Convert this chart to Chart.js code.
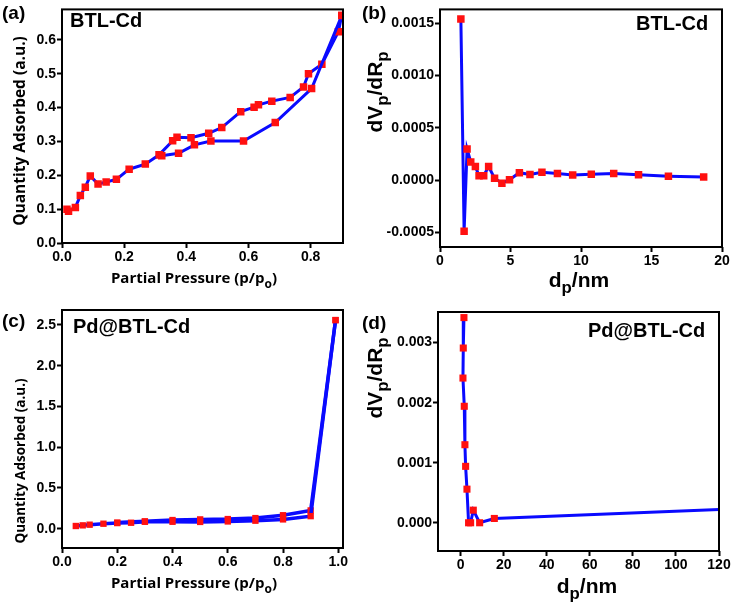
<!DOCTYPE html>
<html>
<head>
<meta charset="utf-8">
<script src="https://cdn.jsdelivr.net/npm/chart.js@4.4.1/dist/chart.umd.min.js"></script>
<style>
  body { margin: 0; background: #fff; }
  #fig { position: relative; width: 732px; height: 607px; }
  canvas { position: absolute; }
</style>
</head>
<body>
<div id="fig">
  <canvas id="chartA" width="360" height="300" style="left:0;top:0"></canvas>
  <canvas id="chartB" width="372" height="300" style="left:360px;top:0"></canvas>
  <canvas id="chartC" width="360" height="307" style="left:0;top:300px"></canvas>
  <canvas id="chartD" width="372" height="307" style="left:360px;top:300px"></canvas>
</div>
<script>
// ----------------------------
// Data
// ----------------------------

// (a) BTL-Cd isotherm
const adsA_x = [0.016, 0.021, 0.043, 0.059, 0.075, 0.091, 0.116, 0.142, 0.175, 0.216, 0.268, 0.313, 0.321, 0.375, 0.426, 0.479, 0.584, 0.686, 0.803, 0.900];
const adsA_y = [0.100, 0.094, 0.105, 0.140, 0.165, 0.198, 0.174, 0.180, 0.188, 0.218, 0.233, 0.261, 0.258, 0.265, 0.290, 0.301, 0.301, 0.356, 0.456, 0.672];
const desA_x = [0.900, 0.889, 0.836, 0.793, 0.777, 0.734, 0.675, 0.632, 0.618, 0.575, 0.514, 0.472, 0.415, 0.370, 0.356, 0.313];
const desA_y = [0.672, 0.624, 0.528, 0.500, 0.461, 0.430, 0.419, 0.408, 0.401, 0.388, 0.341, 0.324, 0.311, 0.312, 0.302, 0.261];

// (b) BTL-Cd pore size distribution
const poreB_x = [1.48, 1.71, 1.92, 2.18, 2.51, 2.77, 3.10, 3.45, 3.87, 4.39, 4.93, 5.63, 6.38, 7.23, 8.33, 9.41, 10.73, 12.32, 14.08, 16.20, 18.70];
const poreB_y = [0.001538, -0.00049, 0.000296, 0.000172, 0.000128, 0.00004, 0.00004, 0.000128, 0.000016, -0.00003, 0.000003, 0.00007, 0.000053, 0.000075, 0.000062, 0.000047, 0.000056, 0.000062, 0.00005, 0.000037, 0.000028];

// (c) Pd@BTL-Cd isotherm
const adsC_x = [0.05, 0.075, 0.10, 0.15, 0.20, 0.25, 0.30, 0.40, 0.50, 0.60, 0.70, 0.80, 0.90, 0.99];
const adsC_y = [0.033, 0.041, 0.049, 0.061, 0.069, 0.073, 0.085, 0.085, 0.083, 0.089, 0.098, 0.114, 0.154, 2.56];
const desC_x = [0.99, 0.90, 0.80, 0.70, 0.60, 0.50, 0.40, 0.30, 0.20];
const desC_y = [2.56, 0.224, 0.165, 0.130, 0.118, 0.114, 0.106, 0.090, 0.075];

// (d) Pd@BTL-Cd pore size distribution
const poreD_x = [1.55, 1.24, 1.09, 1.70, 2.00, 2.33, 2.95, 3.70, 4.65, 5.89, 8.84, 15.66, 120];
const poreD_y = [0.003417, 0.00291, 0.00241, 0.00194, 0.0013, 0.00094, 0.00056, 0, 0, 0.00021, 0, 0.000072, 0.000222];

// tick labels
const ticksA_x = [0, 0.2, 0.4, 0.6, 0.8];
const ticksA_y = [0, 0.1, 0.2, 0.3, 0.4, 0.5, 0.6];
const ticksB_x = [0, 5, 10, 15, 20];
const ticksB_y = [-0.0005, 0, 0.0005, 0.001, 0.0015];
const ticksC_x = [0, 0.2, 0.4, 0.6, 0.8, 1.0];
const ticksC_y = [0, 0.5, 1.0, 1.5, 2.0, 2.5];
const ticksD_x = [0, 20, 40, 60, 80, 100, 120];
const ticksD_y = [0, 0.001, 0.002, 0.003];

// ----------------------------
// Helpers
// ----------------------------
const pts = (xs, ys) => xs.map((x, i) => ({ x: x, y: ys[i] }));
const BLUE = '#0a0aff';
const RED = '#ff1010';
const TICK_FONT = 'Liberation Sans';

function axis(min, max, tickVals, decimals, size, fixed) {
  return {
    type: 'linear',
    min: min,
    max: max,
    afterBuildTicks: s => { s.ticks = tickVals.map(v => ({ value: v })); },
    afterFit: s => { if (s.isHorizontal()) s.height = fixed; else s.width = fixed; },
    grid: { display: true, drawOnChartArea: false, drawTicks: true, tickLength: 5, tickWidth: 2, tickColor: '#000' },
    border: { display: false },
    ticks: {
      color: '#000',
      font: { family: TICK_FONT, weight: 'bold', size: size },
      padding: 1,
      maxRotation: 0,
      autoSkip: false,
      callback: v => Number(v).toFixed(decimals)
    }
  };
}

function series(data, width, radius) {
  return {
    data: data,
    showLine: true,
    borderColor: BLUE,
    borderWidth: width,
    pointStyle: 'rect',
    pointRadius: radius,
    pointBackgroundColor: RED,
    pointBorderColor: RED,
    pointBorderWidth: 0,
    clip: 0
  };
}

// frame around plot area
const framePlugin = {
  id: 'frame',
  afterDatasetsDraw(chart) {
    const a = chart.chartArea, ctx = chart.ctx;
    ctx.save();
    ctx.strokeStyle = '#000';
    ctx.lineWidth = 2;
    ctx.strokeRect(a.left, a.top, a.right - a.left, a.bottom - a.top);
    ctx.restore();
  }
};

// text with subscripts (titles, panel letters, sample names)
function drawRich(ctx, it) {
  const fam = it.family || TICK_FONT;
  const wt = it.weight || 'bold';
  const parts = it.segs.map(s => {
    const sub = s[1] === 'sub';
    const sz = sub ? it.size * 0.8 : it.size;
    ctx.font = `${wt} ${sz}px "${fam}"`;
    return { t: s[0], sub: sub, font: ctx.font, w: ctx.measureText(s[0]).width };
  });
  const total = parts.reduce((a, p) => a + p.w, 0);
  ctx.save();
  ctx.translate(it.x, it.y);
  if (it.rotate) ctx.rotate(-Math.PI / 2);
  ctx.fillStyle = '#000';
  ctx.textBaseline = 'alphabetic';
  ctx.textAlign = 'left';
  let cx = it.align === 'center' ? -total / 2 : 0;
  parts.forEach(p => {
    ctx.font = p.font;
    ctx.fillText(p.t, cx, p.sub ? it.size * 0.3 : 0);
    cx += p.w;
  });
  ctx.restore();
}

const textPlugin = {
  id: 'panelText',
  afterDraw(chart, args, opts) {
    (opts.items || []).forEach(it => drawRich(chart.ctx, it));
  }
};

function makeChart(id, datasets, xAxis, yAxis, pad, items) {
  return new Chart(document.getElementById(id), {
    type: 'scatter',
    data: { datasets: datasets },
    options: {
      responsive: false,
      animation: false,
      devicePixelRatio: 1,
      layout: { padding: pad },
      scales: { x: xAxis, y: yAxis },
      plugins: {
        legend: { display: false },
        tooltip: { enabled: false },
        panelText: { items: items }
      }
    },
    plugins: [framePlugin, textPlugin]
  });
}

// ----------------------------
// Panels
// ----------------------------
const titleFont = 'Open Sans';

makeChart('chartA',
  [series(pts(adsA_x, adsA_y), 3, 5.3), series(pts(desA_x, desA_y), 3, 5.3)],
  axis(0, 0.904, ticksA_x, 1, 14, 57),
  axis(0, 0.69, ticksA_y, 1, 14, 62),
  { left: 0, right: 17, top: 3, bottom: 0 },
  [
    { segs: [['(a)']], x: 2, y: 19, size: 19 },
    { segs: [['BTL-Cd']], x: 70, y: 27, size: 20 },
    { segs: [['Partial Pressure (p/p'], ['o', 'sub'], [')']], x: 194, y: 283, size: 15, align: 'center', family: titleFont },
    { segs: [['Quantity Adsorbed (a.u.)']], x: 25, y: 131, size: 15.5, align: 'center', rotate: true, family: titleFont }
  ]);

makeChart('chartB',
  [series(pts(poreB_x, poreB_y), 3, 5.3)],
  axis(0, 20, ticksB_x, 0, 14, 53),
  axis(-0.00064, 0.00163, ticksB_y, 4, 14, 80),
  { left: 0, right: 10, top: 5, bottom: 0 },
  [
    { segs: [['(b)']], x: 2, y: 19, size: 19 },
    { segs: [['BTL-Cd']], x: 276, y: 30, size: 20 },
    { segs: [['d'], ['p', 'sub'], ['/nm']], x: 219, y: 287, size: 21, align: 'center' },
    { segs: [['dV'], ['p', 'sub'], ['/dR'], ['p', 'sub']], x: 22, y: 92, size: 21, align: 'center', rotate: true }
  ]);

makeChart('chartC',
  [series(pts(adsC_x, adsC_y), 3.5, 4.5), series(pts(desC_x, desC_y), 3.5, 4.5)],
  axis(0, 1.017, ticksC_x, 1, 14, 59),
  axis(-0.237, 2.684, ticksC_y, 1, 14, 62),
  { left: 0, right: 17, top: 10, bottom: 0 },
  [
    { segs: [['(c)']], x: 2, y: 27, size: 19 },
    { segs: [['Pd@BTL-Cd']], x: 73, y: 33, size: 20 },
    { segs: [['Partial Pressure (p/p'], ['o', 'sub'], [')']], x: 194, y: 288, size: 15, align: 'center', family: titleFont },
    { segs: [['Quantity Adsorbed (a.u.)']], x: 25, y: 161, size: 13.5, align: 'center', rotate: true, family: titleFont }
  ]);

makeChart('chartD',
  [Object.assign(series(pts(poreD_x, poreD_y), 3, 5),
    { pointRadius: c => (c.dataIndex === poreD_x.length - 1 ? 0 : 5) })],
  axis(-10.5, 120, ticksD_x, 0, 14, 56),
  axis(-0.00047, 0.00351, ticksD_y, 3, 14, 78),
  { left: 0, right: 13, top: 12, bottom: 0 },
  [
    { segs: [['(d)']], x: 2, y: 29, size: 19 },
    { segs: [['Pd@BTL-Cd']], x: 228, y: 37, size: 20 },
    { segs: [['d'], ['p', 'sub'], ['/nm']], x: 227, y: 293, size: 21, align: 'center' },
    { segs: [['dV'], ['p', 'sub'], ['/dR'], ['p', 'sub']], x: 22, y: 78, size: 21, align: 'center', rotate: true }
  ]);
</script>
</body>
</html>
